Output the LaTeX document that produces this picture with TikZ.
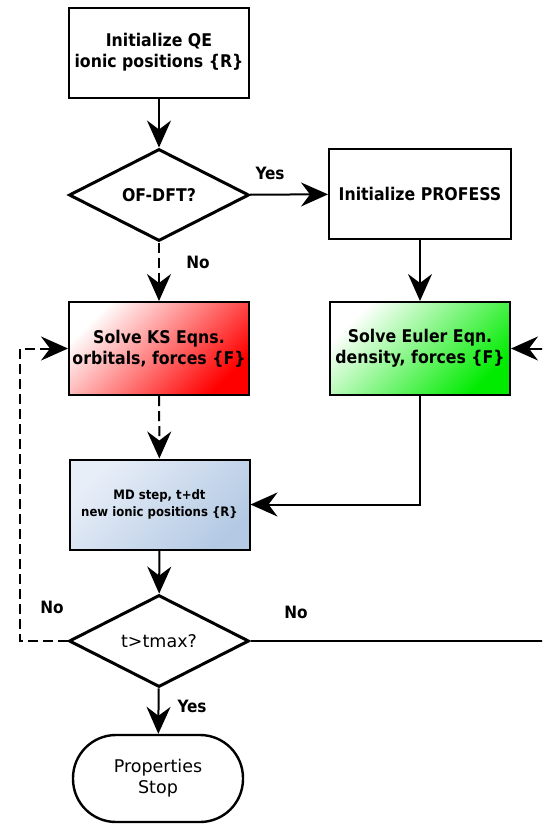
\documentclass[tikz,border=0pt]{standalone}
\usepackage{fontspec}
\setmainfont{DejaVu Sans}
\newfontfamily\condfont{DejaVu Sans Condensed}
\usetikzlibrary{shapes.geometric,arrows.meta}
\begin{document}
\begin{tikzpicture}[x=1pt,y=-1pt,
  box/.style={draw=black,line width=2pt,rectangle,minimum width=180pt,minimum height=90pt,inner sep=0pt,align=center,font=\condfont\fontsize{17.5}{21}\selectfont\bfseries},
  dec/.style={draw=black,line width=3pt,diamond,minimum width=180pt,minimum height=92pt,inner sep=0pt,align=center},
  term/.style={draw=black,line width=2.4pt,rectangle,rounded corners=43pt,minimum width=170pt,minimum height=87pt,inner sep=0pt,align=center,font=\fontsize{17.5}{21}\selectfont},
  conn/.style={line width=2pt,-{Stealth[length=27pt,width=24pt,inset=9pt]}},
  dconn/.style={conn,dash pattern=on 10pt off 5pt},
  lbl/.style={font=\condfont\fontsize{17}{18}\selectfont\bfseries,inner sep=0pt}
]
\clip (0,0) rectangle (542,827);
\fill[white] (0,0) rectangle (542,827);
\node[box] (qe) at (159,52.5) {Initialize QE\\ionic positions \{R\}};
\node[dec,font=\condfont\fontsize{17.5}{21}\selectfont\bfseries] (of) at (159,195) {OF-DFT?};
\node[box,minimum width=182pt] (prof) at (420,194) {Initialize PROFESS};
\node[box,minimum height=93pt,top color=white,bottom color=red,shading angle=45] (ks) at (159,348.5) {Solve KS Eqns.\\orbitals, forces \{F\}};
\node[box,minimum height=93pt,top color=white,bottom color={rgb,255:red,0;green,235;blue,0},shading angle=45] (eu) at (420,348.5) {Solve Euler Eqn.\\density, forces \{F\}};
\node[box,font=\condfont\fontsize{13}{17}\selectfont\bfseries,top color={rgb,255:red,232;green,238;blue,248},bottom color={rgb,255:red,180;green,202;blue,228},shading angle=45] (md) at (159.5,504.5) {MD step, t+dt\\new ionic positions \{R\}};
\node[dec,font=\fontsize{17.5}{21}\selectfont] (tm) at (159,641) {t>tmax?};
\node[term] (st) at (158,778.5) {Properties\\Stop};
\coordinate (lft) at (20,641);
\coordinate (rgt) at (570,641);
\draw[conn] (qe) -- (of);
\draw[conn] (of) -- (prof);
\draw[dconn] (of) -- (ks);
\draw[conn] (prof) -- (eu);
\draw[dconn] (ks) -- (md);
\draw[conn] (eu.south) |- (md.east);
\draw[conn] (md) -- (tm);
\draw[conn] (tm) -- (st);
\draw[dconn] (tm.west) -- (lft) |- (ks.west);
\draw[conn] (tm.east) -- (rgt) |- (eu.east);
\node[lbl] (y1) at (270,173) {Yes};
\node[lbl] (n1) at (198,262) {No};
\node[lbl] (n2) at (52,607) {No};
\node[lbl] (n3) at (296,612) {No};
\node[lbl] (y2) at (192,706) {Yes};
\end{tikzpicture}
\end{document}
